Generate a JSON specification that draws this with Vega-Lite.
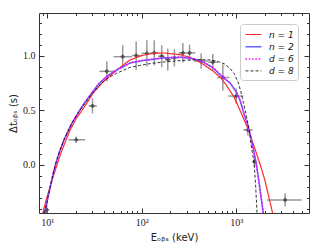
{
  "$schema": "https://vega.github.io/schema/vega-lite/v6.json",
  "width": 270,
  "height": 200,
  "autosize": {"type": "none"},
  "padding": {"left": 39, "top": 13, "right": 16, "bottom": 37},
  "background": "white",
  "config": {"view": {"stroke": null}},
  "datasets": {
    "pts": [
      {"E": 9.9, "xlo": 9.4, "xhi": 10.4, "y": -0.41, "ylo": -0.47, "yhi": -0.35},
      {"E": 20.3, "xlo": 16.8, "xhi": 25.2, "y": 0.23, "ylo": 0.2, "yhi": 0.26},
      {"E": 30.2, "xlo": 27.4, "xhi": 33.6, "y": 0.54, "ylo": 0.47, "yhi": 0.61},
      {"E": 42.8, "xlo": 35.7, "xhi": 52.5, "y": 0.856, "ylo": 0.766, "yhi": 0.946},
      {"E": 63, "xlo": 50.4, "xhi": 78.7, "y": 0.99, "ylo": 0.885, "yhi": 1.095},
      {"E": 87.5, "xlo": 78.7, "xhi": 99.7, "y": 1.0, "ylo": 0.87, "yhi": 1.13},
      {"E": 113.5, "xlo": 99.7, "xhi": 124.2, "y": 1.02, "ylo": 0.9, "yhi": 1.14},
      {"E": 136, "xlo": 124.2, "xhi": 148.9, "y": 1.025, "ylo": 0.91, "yhi": 1.14},
      {"E": 163, "xlo": 148.9, "xhi": 175.5, "y": 0.995, "ylo": 0.895, "yhi": 1.095},
      {"E": 189, "xlo": 175.5, "xhi": 204.8, "y": 0.965, "ylo": 0.865, "yhi": 1.065},
      {"E": 222, "xlo": 204.8, "xhi": 246.2, "y": 0.98, "ylo": 0.9, "yhi": 1.06},
      {"E": 273, "xlo": 246.2, "xhi": 296, "y": 1.025, "ylo": 0.935, "yhi": 1.115},
      {"E": 321, "xlo": 296, "xhi": 370, "y": 1.025, "ylo": 0.95, "yhi": 1.1},
      {"E": 426, "xlo": 360, "xhi": 505, "y": 0.95, "ylo": 0.88, "yhi": 1.02},
      {"E": 566, "xlo": 505, "xhi": 640, "y": 0.94, "ylo": 0.865, "yhi": 1.015},
      {"E": 723, "xlo": 630, "xhi": 850, "y": 0.8, "ylo": 0.68, "yhi": 0.92},
      {"E": 1000, "xlo": 830, "xhi": 1194, "y": 0.63, "ylo": 0.56, "yhi": 0.7},
      {"E": 1330, "xlo": 1194, "xhi": 1500, "y": 0.32, "ylo": 0.27, "yhi": 0.37},
      {"E": 1563, "xlo": 1500, "xhi": 1630, "y": 0.03, "ylo": -0.02, "yhi": 0.08},
      {"E": 3300, "xlo": 2115, "xhi": 4950, "y": -0.32, "ylo": -0.38, "yhi": -0.26}
    ],
    "curves": [
      {"s": "n = 1", "E": 9.0, "y": -0.44},
      {"s": "n = 1", "E": 9.5, "y": -0.36},
      {"s": "n = 1", "E": 10, "y": -0.29},
      {"s": "n = 1", "E": 11, "y": -0.17},
      {"s": "n = 1", "E": 12.7, "y": 0.0},
      {"s": "n = 1", "E": 14, "y": 0.11},
      {"s": "n = 1", "E": 15.9, "y": 0.23},
      {"s": "n = 1", "E": 17.5, "y": 0.32},
      {"s": "n = 1", "E": 20.5, "y": 0.43},
      {"s": "n = 1", "E": 23.9, "y": 0.51},
      {"s": "n = 1", "E": 30.9, "y": 0.66},
      {"s": "n = 1", "E": 38, "y": 0.75},
      {"s": "n = 1", "E": 45.6, "y": 0.81},
      {"s": "n = 1", "E": 55, "y": 0.87},
      {"s": "n = 1", "E": 75, "y": 0.96},
      {"s": "n = 1", "E": 100, "y": 1.0},
      {"s": "n = 1", "E": 123, "y": 1.018},
      {"s": "n = 1", "E": 170, "y": 1.025},
      {"s": "n = 1", "E": 255, "y": 1.009},
      {"s": "n = 1", "E": 320, "y": 0.985},
      {"s": "n = 1", "E": 384, "y": 0.954},
      {"s": "n = 1", "E": 450, "y": 0.92},
      {"s": "n = 1", "E": 575, "y": 0.856},
      {"s": "n = 1", "E": 700, "y": 0.79},
      {"s": "n = 1", "E": 800, "y": 0.72},
      {"s": "n = 1", "E": 935, "y": 0.63},
      {"s": "n = 1", "E": 1000, "y": 0.58},
      {"s": "n = 1", "E": 1150, "y": 0.46},
      {"s": "n = 1", "E": 1350, "y": 0.32},
      {"s": "n = 1", "E": 1590, "y": 0.14},
      {"s": "n = 1", "E": 1800, "y": 0.0},
      {"s": "n = 1", "E": 2000, "y": -0.13},
      {"s": "n = 1", "E": 2200, "y": -0.28},
      {"s": "n = 1", "E": 2430, "y": -0.44},
      {"s": "n = 2", "E": 9.4, "y": -0.44},
      {"s": "n = 2", "E": 10, "y": -0.33},
      {"s": "n = 2", "E": 11, "y": -0.17},
      {"s": "n = 2", "E": 12.2, "y": 0.0},
      {"s": "n = 2", "E": 13.5, "y": 0.12},
      {"s": "n = 2", "E": 15.1, "y": 0.23},
      {"s": "n = 2", "E": 16.4, "y": 0.3},
      {"s": "n = 2", "E": 18.5, "y": 0.39},
      {"s": "n = 2", "E": 22.3, "y": 0.506},
      {"s": "n = 2", "E": 25, "y": 0.57},
      {"s": "n = 2", "E": 29.7, "y": 0.659},
      {"s": "n = 2", "E": 35, "y": 0.74},
      {"s": "n = 2", "E": 42.8, "y": 0.81},
      {"s": "n = 2", "E": 54.6, "y": 0.87},
      {"s": "n = 2", "E": 75.5, "y": 0.933},
      {"s": "n = 2", "E": 100, "y": 0.953},
      {"s": "n = 2", "E": 123, "y": 0.963},
      {"s": "n = 2", "E": 170, "y": 0.979},
      {"s": "n = 2", "E": 255, "y": 0.985},
      {"s": "n = 2", "E": 330, "y": 0.975},
      {"s": "n = 2", "E": 384, "y": 0.963},
      {"s": "n = 2", "E": 451, "y": 0.94},
      {"s": "n = 2", "E": 575, "y": 0.885},
      {"s": "n = 2", "E": 723, "y": 0.8},
      {"s": "n = 2", "E": 863, "y": 0.75},
      {"s": "n = 2", "E": 1000, "y": 0.67},
      {"s": "n = 2", "E": 1100, "y": 0.59},
      {"s": "n = 2", "E": 1200, "y": 0.48},
      {"s": "n = 2", "E": 1374, "y": 0.32},
      {"s": "n = 2", "E": 1525, "y": 0.14},
      {"s": "n = 2", "E": 1640, "y": 0.0},
      {"s": "n = 2", "E": 1750, "y": -0.165},
      {"s": "n = 2", "E": 1914, "y": -0.41},
      {"s": "n = 2", "E": 1940, "y": -0.44},
      {"s": "d = 6", "E": 9.4, "y": -0.44},
      {"s": "d = 6", "E": 10, "y": -0.33},
      {"s": "d = 6", "E": 11, "y": -0.17},
      {"s": "d = 6", "E": 12.2, "y": 0.0},
      {"s": "d = 6", "E": 13.5, "y": 0.12},
      {"s": "d = 6", "E": 15.1, "y": 0.23},
      {"s": "d = 6", "E": 16.4, "y": 0.3},
      {"s": "d = 6", "E": 18.5, "y": 0.39},
      {"s": "d = 6", "E": 22.3, "y": 0.506},
      {"s": "d = 6", "E": 25, "y": 0.57},
      {"s": "d = 6", "E": 29.7, "y": 0.659},
      {"s": "d = 6", "E": 35, "y": 0.74},
      {"s": "d = 6", "E": 42.8, "y": 0.81},
      {"s": "d = 6", "E": 54.6, "y": 0.87},
      {"s": "d = 6", "E": 75.5, "y": 0.933},
      {"s": "d = 6", "E": 100, "y": 0.955},
      {"s": "d = 6", "E": 123, "y": 0.965},
      {"s": "d = 6", "E": 170, "y": 0.98},
      {"s": "d = 6", "E": 255, "y": 0.986},
      {"s": "d = 6", "E": 330, "y": 0.977},
      {"s": "d = 6", "E": 384, "y": 0.965},
      {"s": "d = 6", "E": 451, "y": 0.942},
      {"s": "d = 6", "E": 575, "y": 0.888},
      {"s": "d = 6", "E": 723, "y": 0.805},
      {"s": "d = 6", "E": 863, "y": 0.75},
      {"s": "d = 6", "E": 1000, "y": 0.67},
      {"s": "d = 6", "E": 1100, "y": 0.59},
      {"s": "d = 6", "E": 1200, "y": 0.48},
      {"s": "d = 6", "E": 1374, "y": 0.32},
      {"s": "d = 6", "E": 1525, "y": 0.14},
      {"s": "d = 6", "E": 1640, "y": 0.0},
      {"s": "d = 6", "E": 1750, "y": -0.165},
      {"s": "d = 6", "E": 1914, "y": -0.41},
      {"s": "d = 6", "E": 1935, "y": -0.44},
      {"s": "d = 8", "E": 9.4, "y": -0.44},
      {"s": "d = 8", "E": 10, "y": -0.33},
      {"s": "d = 8", "E": 11, "y": -0.16},
      {"s": "d = 8", "E": 12.2, "y": 0.0},
      {"s": "d = 8", "E": 13.5, "y": 0.12},
      {"s": "d = 8", "E": 15.1, "y": 0.23},
      {"s": "d = 8", "E": 18.5, "y": 0.39},
      {"s": "d = 8", "E": 22.3, "y": 0.5},
      {"s": "d = 8", "E": 29.7, "y": 0.65},
      {"s": "d = 8", "E": 35, "y": 0.72},
      {"s": "d = 8", "E": 42.8, "y": 0.79},
      {"s": "d = 8", "E": 54.6, "y": 0.84},
      {"s": "d = 8", "E": 75.5, "y": 0.893},
      {"s": "d = 8", "E": 100, "y": 0.913},
      {"s": "d = 8", "E": 123, "y": 0.927},
      {"s": "d = 8", "E": 170, "y": 0.942},
      {"s": "d = 8", "E": 255, "y": 0.954},
      {"s": "d = 8", "E": 330, "y": 0.96},
      {"s": "d = 8", "E": 417, "y": 0.963},
      {"s": "d = 8", "E": 500, "y": 0.962},
      {"s": "d = 8", "E": 624, "y": 0.95},
      {"s": "d = 8", "E": 750, "y": 0.925},
      {"s": "d = 8", "E": 869, "y": 0.88},
      {"s": "d = 8", "E": 960, "y": 0.83},
      {"s": "d = 8", "E": 1055, "y": 0.75},
      {"s": "d = 8", "E": 1130, "y": 0.66},
      {"s": "d = 8", "E": 1194, "y": 0.57},
      {"s": "d = 8", "E": 1290, "y": 0.44},
      {"s": "d = 8", "E": 1374, "y": 0.32},
      {"s": "d = 8", "E": 1405, "y": 0.25},
      {"s": "d = 8", "E": 1466, "y": 0.14},
      {"s": "d = 8", "E": 1550, "y": 0.02},
      {"s": "d = 8", "E": 1610, "y": -0.2},
      {"s": "d = 8", "E": 1664, "y": -0.44}
    ]
  },
  "layer": [
    {
      "data": {"name": "pts"},
      "mark": {"type": "rule", "color": "#999999", "strokeWidth": 1.5, "clip": true},
      "encoding": {
        "x": {"field": "xlo", "type": "quantitative", "scale": {"type": "log", "domain": [8.2, 5900], "nice": false}, "axis": null},
        "x2": {"field": "xhi"},
        "y": {"field": "y", "type": "quantitative", "scale": {"domain": [-0.44, 1.39], "nice": false, "zero": false}, "axis": null}
      }
    },
    {
      "data": {"name": "pts"},
      "mark": {"type": "rule", "color": "#999999", "strokeWidth": 1.5, "clip": true},
      "encoding": {
        "x": {"field": "E", "type": "quantitative", "scale": {"type": "log", "domain": [8.2, 5900], "nice": false},
          "axis": {"orient": "top", "labels": false, "title": null, "grid": false,
            "values": [9, 10, 20, 30, 40, 50, 60, 70, 80, 90, 100, 200, 300, 400, 500, 600, 700, 800, 900, 1000, 2000, 3000, 4000, 5000],
            "tickSize": {"condition": {"test": "datum.value==10||datum.value==100||datum.value==1000", "value": -5}, "value": -2.5},
            "tickColor": "#333", "domainColor": "#333"}},
        "y": {"field": "ylo", "type": "quantitative", "scale": {"domain": [-0.44, 1.39], "nice": false, "zero": false},
          "axis": {"orient": "right", "labels": false, "title": null, "grid": false,
            "values": [-0.4, -0.3, -0.2, -0.1, 0, 0.1, 0.2, 0.3, 0.4, 0.5, 0.6, 0.7, 0.8, 0.9, 1, 1.1, 1.2, 1.3],
            "tickSize": {"condition": {"test": "abs(datum.value*2-round(datum.value*2))<0.001", "value": -5}, "value": -2.5},
            "tickColor": "#333", "domainColor": "#333"}},
        "y2": {"field": "yhi"}
      }
    },
    {
      "data": {"name": "pts"},
      "mark": {"type": "point", "shape": "diamond", "filled": true, "color": "#505050", "size": 22, "opacity": 1, "clip": true},
      "encoding": {
        "x": {"field": "E", "type": "quantitative", "scale": {"type": "log", "domain": [8.2, 5900], "nice": false}, "axis": null},
        "y": {"field": "y", "type": "quantitative", "scale": {"domain": [-0.44, 1.39], "nice": false, "zero": false}, "axis": null}
      }
    },
    {
      "data": {"name": "curves"},
      "mark": {"type": "line", "clip": true},
      "encoding": {
        "x": {"field": "E", "type": "quantitative", "scale": {"type": "log", "domain": [8.2, 5900], "nice": false},
          "axis": {"orient": "bottom", "grid": false,
            "values": [9, 10, 20, 30, 40, 50, 60, 70, 80, 90, 100, 200, 300, 400, 500, 600, 700, 800, 900, 1000, 2000, 3000, 4000, 5000],
            "labelExpr": "datum.value==10?'10¹':datum.value==100?'10²':datum.value==1000?'10³':''",
            "tickSize": {"condition": {"test": "datum.value==10||datum.value==100||datum.value==1000", "value": -5}, "value": -2.5},
            "labelPadding": 9, "labelFont": "Liberation Serif", "labelFontSize": 10, "labelColor": "#222",
            "labelOverlap": false, "labelFlush": false,
            "tickColor": "#333", "domainColor": "#333",
            "title": "Eₒᵦₛ (keV)", "titleFont": "DejaVu Sans", "titleFontSize": 10, "titleFontWeight": "normal", "titleColor": "#222", "titlePadding": 3}},
        "y": {"field": "y", "type": "quantitative", "scale": {"domain": [-0.44, 1.39], "nice": false, "zero": false},
          "axis": {"orient": "left", "grid": false,
            "values": [-0.4, -0.3, -0.2, -0.1, 0, 0.1, 0.2, 0.3, 0.4, 0.5, 0.6, 0.7, 0.8, 0.9, 1, 1.1, 1.2, 1.3],
            "labelExpr": "abs(datum.value*2-round(datum.value*2))<0.001 ? format(datum.value,'.1f') : ''",
            "tickSize": {"condition": {"test": "abs(datum.value*2-round(datum.value*2))<0.001", "value": -5}, "value": -2.5},
            "labelPadding": 9, "labelFont": "Liberation Serif", "labelFontSize": 10, "labelColor": "#222",
            "labelOverlap": false, "labelFlush": false,
            "tickColor": "#333", "domainColor": "#333",
            "title": "Δtₒᵦₛ (s)", "titleFont": "DejaVu Sans", "titleFontSize": 10, "titleFontWeight": "normal", "titleColor": "#222", "titlePadding": 4}},
        "color": {"field": "s", "type": "nominal",
          "scale": {"domain": ["n = 1", "n = 2", "d = 6", "d = 8"], "range": ["#ff2a2a", "#6464ff", "#ff00ff", "#000000"]},
          "legend": {"title": null, "orient": "top-right", "offset": 11, "symbolType": "M-1.45,0H1.45", "symbolSize": 121, "symbolStrokeWidth": 1.3, "symbolOffset": 3,
            "labelFont": "DejaVu Sans", "labelFontSize": 9, "labelFontStyle": "italic", "labelColor": "#111", "labelOffset": 9,
            "rowPadding": 0.3, "padding": 4, "strokeColor": "#cccccc", "fillColor": "white", "cornerRadius": 3}},
        "strokeDash": {"field": "s", "type": "nominal",
          "scale": {"domain": ["n = 1", "n = 2", "d = 6", "d = 8"], "range": [[1, 0], [1, 0], [1.5, 1.8], [3, 2]]},
          "legend": {"title": null}},
        "strokeWidth": {"field": "s", "type": "nominal",
          "scale": {"type": "ordinal", "domain": ["n = 1", "n = 2", "d = 6", "d = 8"], "range": [1.2, 1.5, 1.5, 0.8]},
          "legend": null},
        "order": {"field": "E", "type": "quantitative"}
      }
    }
  ],
  "resolve": {"axis": {"x": "independent", "y": "independent"}}
}
